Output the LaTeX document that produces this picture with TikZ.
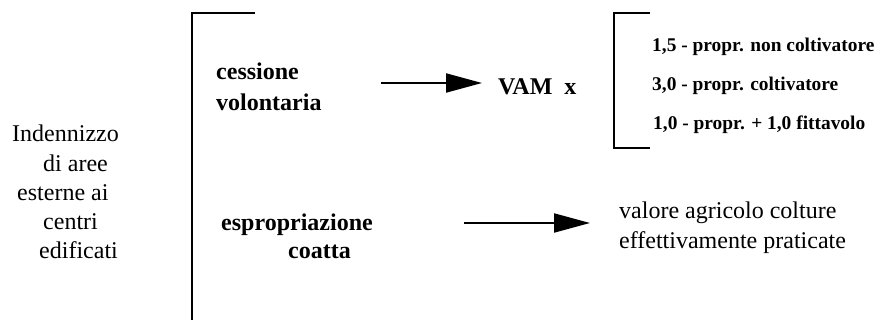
\documentclass[tikz,border=0pt]{standalone}
\usepackage{fontspec}
\setmainfont{Liberation Serif}
\usetikzlibrary{arrows.meta}
\begin{document}
\begin{tikzpicture}[x=1pt,y=-1pt,
  txt/.style={inner sep=0pt,anchor=base west,font=\fontsize{24}{29}\selectfont},
  btxt/.style={txt,font=\fontsize{24}{29}\selectfont\bfseries},
  ltxt/.style={inner sep=0pt,anchor=base west,font=\fontsize{19.4}{24}\selectfont\bfseries},
  bracket/.style={line width=2pt},
  flow/.style={line width=2pt,-{Triangle[length=36pt,width=19pt]}}]
\useasboundingbox (0,0) rectangle (879,322);

% subject of the classification
\node[txt] (t1) at (12,141) {Indennizzo};
\node[txt] (t2) at (43,171) {di aree};
\node[txt] (t3) at (17,200) {esterne ai};
\node[txt] (t4) at (43,229) {centri};
\node[txt] (t5) at (39,258) {edificati};

% main bracket
\draw[bracket] (255,13) -- (192,13) -- (192,320);

% the two cases
\node[btxt] (c1) at (216,79) {cessione};
\node[btxt] (c2) at (216,110) {volontaria};
\node[btxt] (e1) at (221,230) {espropriazione};
\node[btxt] (e2) at (288,258) {coatta};

% first case: multiplier of the VAM
\coordinate (a1s) at (381,83);
\coordinate (a1e) at (482,83);
\draw[flow] (a1s) -- (a1e);
\node[btxt] (vam) at (498,94) {VAM\ \ x};

\draw[bracket] (650,13) -- (614,13) -- (614,148) -- (650,148);
\node[ltxt] (m1) at (652,51) {1,5 - propr. non coltivatore};
\node[ltxt] (m2) at (652,90) {3,0 - propr. coltivatore};
\node[ltxt] (m3) at (653,129) {1,0 - propr. + 1,0 fittavolo};

% second case: agricultural value
\coordinate (a2s) at (464,223);
\coordinate (a2e) at (590,223);
\draw[flow] (a2s) -- (a2e);
\node[txt] (v1) at (619,218) {valore agricolo colture};
\node[txt] (v2) at (619,248) {effettivamente praticate};
\end{tikzpicture}
\end{document}
